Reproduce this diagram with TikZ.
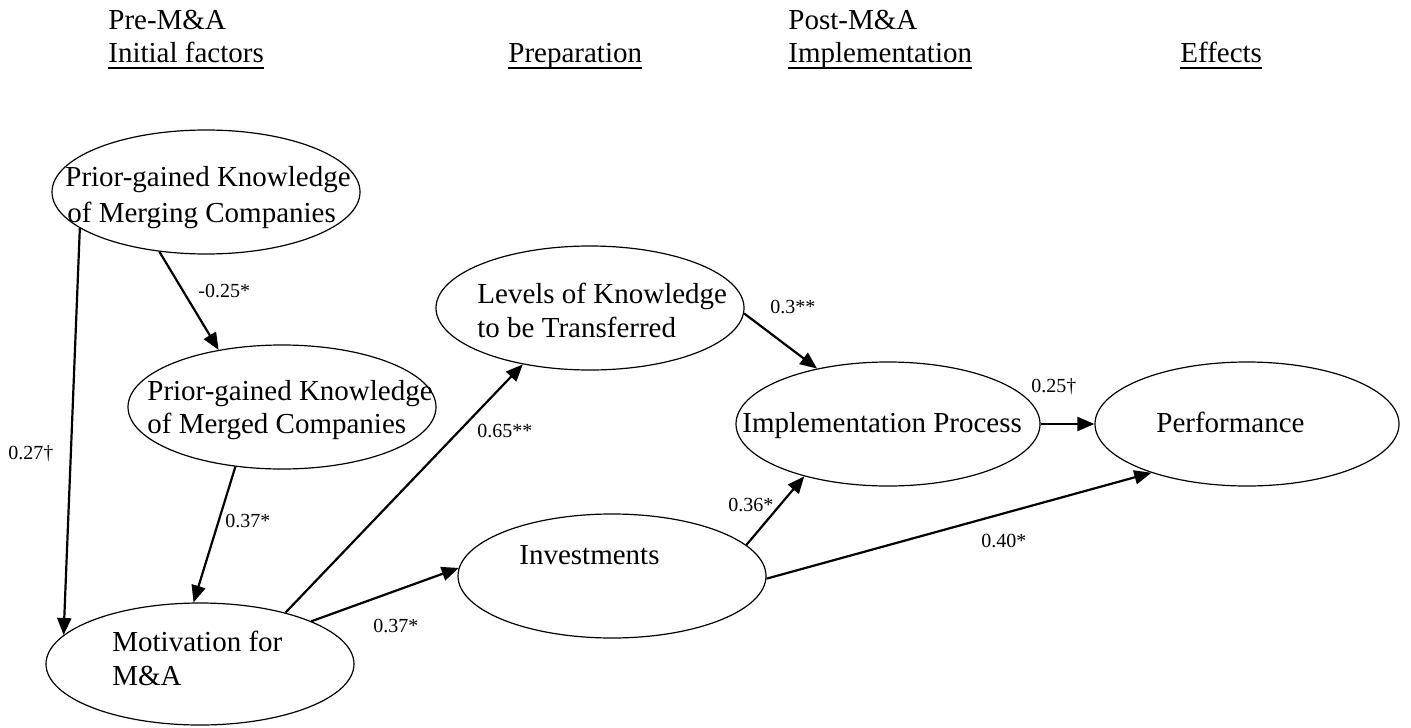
\documentclass[tikz,border=0pt]{standalone}
\usepackage{fontspec}
\setmainfont{Liberation Serif}
\usetikzlibrary{shapes.geometric,arrows.meta}
\begin{document}
\begin{tikzpicture}[x=0.5pt,y=-0.5pt,
  ell/.style={draw, line width=0.6pt, ellipse, minimum width=154pt, minimum height=62pt, inner sep=0pt},
  txt/.style={anchor=base west, inner sep=0pt, font=\fontsize{14.5}{17}\selectfont},
  lab/.style={anchor=base west, inner sep=0pt, font=\fontsize{10}{12}\selectfont},
  arr/.style={line width=1.1pt, -{Triangle[length=8.5pt,width=7pt]}},
  uline/.style={line width=0.8pt}]
\useasboundingbox (0,0) rectangle (1411,727);

% headers
\node[txt] (h1) at (108,30) {Pre-M\&A};
\node[txt] (h2) at (108,63) {Initial factors};
\node[txt] (h3) at (508,63) {Preparation};
\node[txt] (h4) at (788,30) {Post-M\&A};
\node[txt] (h5) at (788,63) {Implementation};
\node[txt] (h6) at (1180,63) {Effects};
\draw[uline] ([yshift=-2.5pt]h2.base west) -- ([yshift=-2.5pt]h2.base east);
\draw[uline] ([yshift=-2.5pt]h3.base west) -- ([yshift=-2.5pt]h3.base east);
\draw[uline] ([yshift=-2.5pt]h5.base west) -- ([yshift=-2.5pt]h5.base east);
\draw[uline] ([yshift=-2.5pt]h6.base west) -- ([yshift=-2.5pt]h6.base east);

% ellipses
\node[ell] (merging) at (206,192) {};
\node[ell] (merged) at (282,407) {};
\node[ell, minimum height=61pt] (motiv) at (200,664) {};
\node[ell] (levels) at (590,308) {};
\node[ell] (invest) at (612,576) {};
\node[ell, minimum width=152pt] (impl) at (888,424) {};
\node[ell, minimum width=152pt] (perf) at (1247,424) {};

% ellipse texts
\node[txt] (t1a) at (65,187) {Prior-gained Knowledge};
\node[txt] (t1b) at (67,222) {of Merging Companies};
\node[txt] (t2a) at (147,400) {Prior-gained Knowledge};
\node[txt] (t2b) at (147,433) {of Merged Companies};
\node[txt] (t3a) at (112,651) {Motivation for};
\node[txt] (t3b) at (112,685) {M\&A};
\node[txt] (t4a) at (477,303) {Levels of Knowledge};
\node[txt] (t4b) at (477,337) {to be Transferred};
\node[txt] (t5) at (519,564) {Investments};
\node[txt] (t6) at (742,432) {Implementation Process};
\node[txt] (t7) at (1156,432) {Performance};

% arrows
\draw[arr] (merging.196) -- (motiv.168);
\draw[arr] (merging.232) -- (merged.138);
\draw[arr] (merged.232) -- (motiv.96);
\draw[arr] (motiv.31) -- (levels.220);
\draw[arr] (motiv.21) -- (invest.177);
\draw[arr] (levels.358) -- (impl.142);
\draw[arr] (invest.13) -- (impl.212);
\draw[arr] (impl.east) -- (perf.west);
\draw[arr] (invest.359) -- (perf.207);

% labels
\node[lab] (l1) at (8,459) {0.27†};
\node[lab] (l2) at (198,297) {-0.25*};
\node[lab] (l3) at (225,527) {0.37*};
\node[lab] (l4) at (477,437) {0.65**};
\node[lab] (l5) at (373,632) {0.37*};
\node[lab] (l6) at (770,313) {0.3**};
\node[lab] (l7) at (728,511) {0.36*};
\node[lab] (l8) at (1031,392) {0.25†};
\node[lab] (l9) at (981,547) {0.40*};
\end{tikzpicture}
\end{document}
